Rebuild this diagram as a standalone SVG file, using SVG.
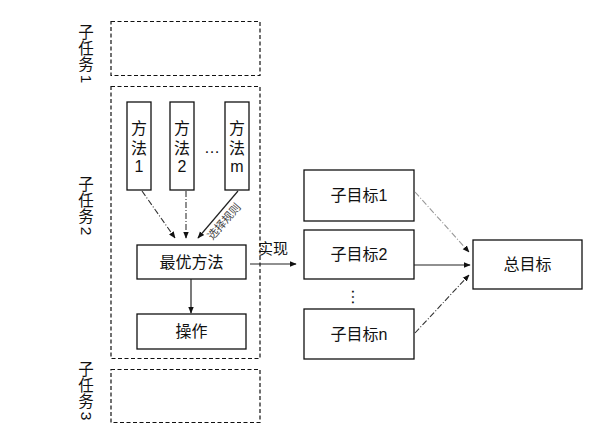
<svg xmlns="http://www.w3.org/2000/svg" width="600" height="447" viewBox="0 0 600 447">
<defs>
<style>
text{font-family:"Liberation Sans","Noto Sans CJK SC",sans-serif;fill:#111;}
.lbl{font-size:16px;text-anchor:middle;}
.v{font-size:15.5px;text-anchor:middle;}
.vd{font-size:15.5px;text-anchor:middle;dominant-baseline:central;}
.box{fill:#fff;stroke:#111;stroke-width:1.3;}
.dash{fill:none;stroke:#111;stroke-width:1.2;stroke-dasharray:4 2.5;}
.ln{fill:none;stroke:#222;stroke-width:1.2;}
.dd{fill:none;stroke:#333;stroke-width:1.1;stroke-dasharray:6 2 1 2;}
.ddl{fill:none;stroke:#999;stroke-width:1.1;stroke-dasharray:6 2 1 2;}
</style>
<marker id="ah" viewBox="0 0 10 10" refX="9" refY="5" markerWidth="7" markerHeight="7" orient="auto" markerUnits="userSpaceOnUse">
<path d="M0,1 L10,5 L0,9 z" fill="#111"/>
</marker>
</defs>
<rect width="600" height="447" fill="#fff"/>

<g id="subtask1">
<rect class="dash" x="111" y="21.5" width="149" height="54"/>
<text class="v" x="86" y="38">子</text>
<text class="v" x="86" y="54">任</text>
<text class="v" x="86" y="70">务</text>
<text class="vd" transform="translate(86,79) rotate(90)">1</text>
</g>
<g id="subtask2">
<rect class="dash" x="111" y="86.5" width="149" height="272"/>
<text class="v" x="86" y="190">子</text>
<text class="v" x="86" y="206">任</text>
<text class="v" x="86" y="222">务</text>
<text class="vd" transform="translate(86,231) rotate(90)">2</text>
</g>
<g id="subtask3">
<rect class="dash" x="111" y="369.5" width="149" height="53"/>
<text class="v" x="86" y="375">子</text>
<text class="v" x="86" y="391">任</text>
<text class="v" x="86" y="407">务</text>
<text class="vd" transform="translate(86,416) rotate(90)">3</text>
</g>

<g id="method1">
<rect class="box" x="127" y="102" width="24" height="88"/>
<text class="lbl" x="139" y="134">方</text>
<text class="lbl" x="139" y="154">法</text>
<text class="lbl" x="139" y="172">1</text>
</g>
<g id="method2">
<rect class="box" x="170" y="102" width="24" height="88"/>
<text class="lbl" x="182" y="134">方</text>
<text class="lbl" x="182" y="154">法</text>
<text class="lbl" x="182" y="172">2</text>
</g>
<text class="lbl" x="212" y="153">…</text>
<g id="methodm">
<rect class="box" x="225" y="102" width="24" height="88"/>
<text class="lbl" x="237" y="134">方</text>
<text class="lbl" x="237" y="154">法</text>
<text class="lbl" x="237" y="172">m</text>
</g>

<g id="best">
<rect class="box" x="137" y="245" width="109" height="34"/>
<text class="lbl" x="191.5" y="268">最优方法</text>
</g>
<g id="operate">
<rect class="box" x="137" y="314" width="109" height="35"/>
<text class="lbl" x="191.5" y="337">操作</text>
</g>

<g id="goal1">
<rect class="box" x="304" y="170" width="110" height="51"/>
<text class="lbl" x="359" y="201">子目标1</text>
</g>
<g id="goal2">
<rect class="box" x="304" y="230" width="110" height="49"/>
<text class="lbl" x="359" y="260">子目标2</text>
</g>
<text class="lbl" transform="translate(357,297) rotate(90)" style="dominant-baseline:central;font-size:17px">…</text>
<g id="goaln">
<rect class="box" x="304" y="309" width="110" height="50"/>
<text class="lbl" x="359" y="340">子目标n</text>
</g>
<g id="total">
<rect class="box" x="473" y="240" width="109" height="49"/>
<text class="lbl" x="527.5" y="270">总目标</text>
</g>

<g id="connectors">
<path class="dd" d="M142,191 L175,238" marker-end="url(#ah)"/>
<path class="dd" d="M186,191 L186,238" marker-end="url(#ah)"/>
<path class="ln" d="M238,191 L198,238" marker-end="url(#ah)"/>
<text x="0" y="0" transform="translate(227,224) rotate(-49)" style="font-size:11px;text-anchor:middle;fill:#444">选择规则</text>
<path class="ln" d="M191,279 L191,313" marker-end="url(#ah)"/>
<path class="ln" d="M250,264 L296,264" marker-end="url(#ah)"/>
<text x="273" y="254" style="font-size:15px;text-anchor:middle">实现</text>
<path class="ddl" d="M415,192 L469,252" marker-end="url(#ah)"/>
<path class="ln" d="M414,265 L470,265" marker-end="url(#ah)"/>
<path class="dd" d="M415,333 L469,275" marker-end="url(#ah)"/>
</g>
</svg>
